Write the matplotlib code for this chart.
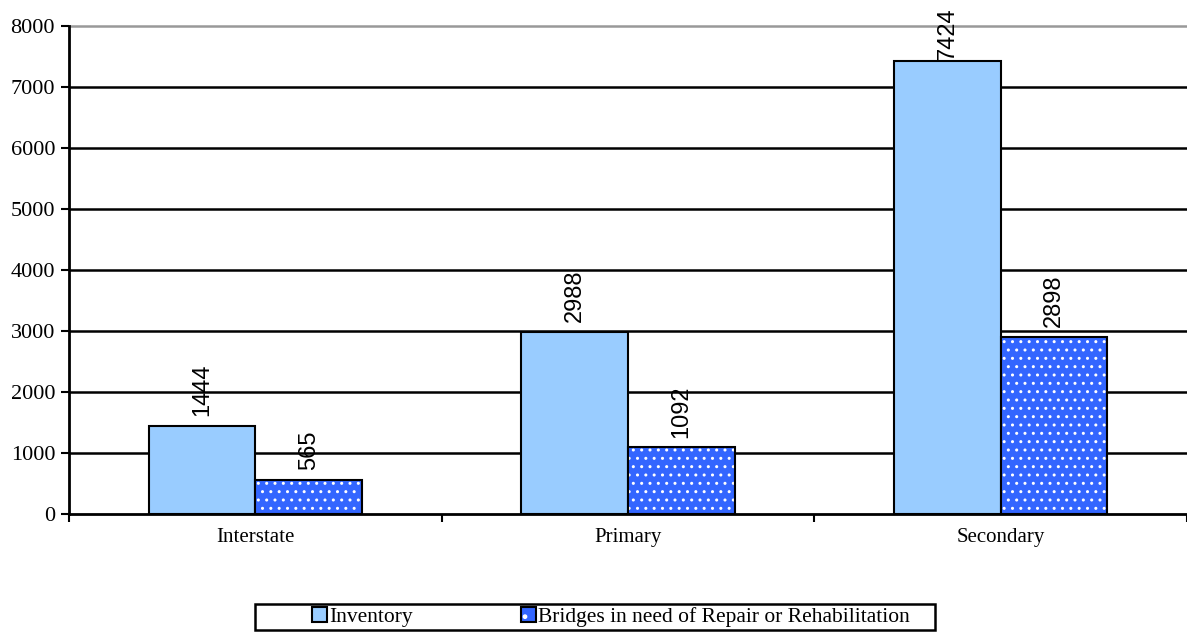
import numpy as np
import matplotlib
matplotlib.use('Agg')
import matplotlib.pyplot as plt
import matplotlib.patches as mpatches
import matplotlib.colors as mcolors
from matplotlib import rcParams

rcParams['font.family'] = 'serif'
rcParams['font.serif'] = ['Liberation Serif', 'DejaVu Serif']
rcParams['hatch.linewidth'] = 1.0

categories = ['Interstate', 'Primary', 'Secondary']
inventory = [1444, 2988, 7424]
repair = [565, 1092, 2898]
series_names = ['Inventory', 'Bridges in need of Repair or Rehabilitation']
yticks = [0, 1000, 2000, 3000, 4000, 5000, 6000, 7000, 8000]

fig = plt.figure(figsize=(11.87, 6.4), dpi=100)
ax = fig.add_axes([69/1187, 1 - 514/640, 1 - 69/1187, (514 - 26)/640])

x = np.arange(len(categories))
w = 0.286
white = mcolors.to_rgba('white')

b1 = ax.bar(x - w/2, inventory, w, color='#99CCFF', edgecolor='black', linewidth=1.5,
            zorder=3)
b2 = ax.bar(x + w/2, repair, w, color='#3366FF', edgecolor='black', linewidth=1.5,
            hatch='..', zorder=3)
for r in b2:
    r._hatch_color = white

# value labels, rotated, sans font
for bars, vals in [(b1, inventory), (b2, repair)]:
    for r, v in zip(bars, vals):
        off = 7 if v < 7000 else 1
        ax.annotate(str(v), xy=(r.get_x() + r.get_width()/2, v), xytext=(0, off),
                    textcoords='offset points', rotation=90, ha='center', va='bottom',
                    fontsize=17, family='Liberation Sans', zorder=5,
                    annotation_clip=False)

ax.set_xlim(-0.5, 2.5)
ax.set_ylim(0, 8000)
ax.set_yticks(yticks)
ax.set_yticklabels([str(t) for t in yticks], fontsize=16)
for t in yticks[1:-1]:
    ax.axhline(t, color='black', linewidth=1.8, zorder=1)
ax.axhline(8000, color='#999999', linewidth=1.8, zorder=1, clip_on=False)

# x ticks between categories, labels at centers
ax.set_xticks([-0.5, 0.5, 1.5, 2.5])
ax.set_xticklabels([])
ax.set_xticks(x, minor=True)
ax.set_xticklabels(categories, minor=True, fontsize=15)
ax.tick_params(axis='x', which='minor', length=0, pad=10)
ax.tick_params(axis='x', which='major', length=6, width=1.5, direction='out')
ax.tick_params(axis='y', length=6, width=1.5, direction='out', pad=4)

for s in ['top', 'right']:
    ax.spines[s].set_visible(False)
ax.spines['left'].set_linewidth(2)
ax.spines['bottom'].set_linewidth(2)
ax.spines['left'].set_zorder(4)
ax.spines['bottom'].set_zorder(4)

# legend: entries without frame, box drawn separately (Excel-style padding)
h1 = mpatches.Patch(facecolor='#99CCFF', edgecolor='black', linewidth=1.5)
h2 = mpatches.Patch(facecolor='#3366FF', edgecolor='black', linewidth=1.5, hatch='.')
h2._hatch_color = white
leg = fig.legend([h1, h2], series_names, loc='center',
                 bbox_to_anchor=(611/1187, 1 - 617/640), ncol=2,
                 fontsize=15.5, frameon=False,
                 handlelength=0.7, handleheight=0.7, handletextpad=0.1,
                 columnspacing=5.0, borderpad=0.25)
box = mpatches.Rectangle((255/1187, 1 - 630/640), 680/1187, 26/640,
                         transform=fig.transFigure, fill=False,
                         edgecolor='black', linewidth=1.8)
fig.patches.append(box)

fig.savefig('out.png', dpi=100)
